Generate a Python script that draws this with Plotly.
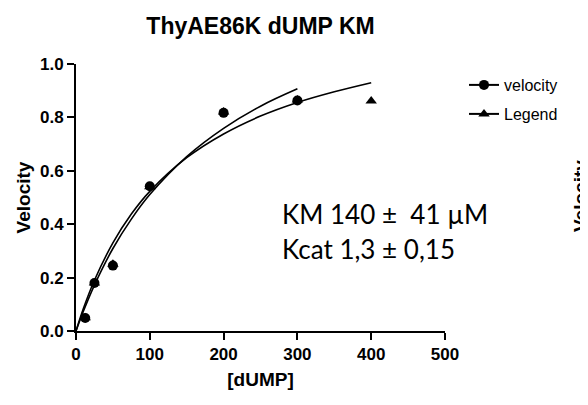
import plotly.graph_objects as go

# Measured data points
conc = [12.5, 25, 50, 100, 200, 300]
velocity = [0.049, 0.18, 0.245, 0.542, 0.817, 0.863]
legend_conc = [12.5, 25, 50, 100, 200, 300, 400]
legend_vals = [0.05, 0.18, 0.25, 0.54, 0.82, 0.865, 0.861]

# Fitted curves
fit1_x = [0, 10, 25, 50, 75, 100, 150, 200, 250, 300]
fit1_y = [0, 0.074, 0.172, 0.309, 0.419, 0.511, 0.653, 0.759, 0.842, 0.907]
fit2_x = [0, 10, 25, 50, 75, 100, 150, 200, 250, 300, 350, 400]
fit2_y = [0, 0.084, 0.190, 0.330, 0.438, 0.523, 0.649, 0.738, 0.805, 0.856, 0.896, 0.930]

x_ticks = [0, 100, 200, 300, 400, 500]
y_ticks = [0, 0.2, 0.4, 0.6, 0.8, 1.0]

title_text = "ThyAE86K dUMP KM"
x_title = "[dUMP]"
y_title = "Velocity"
series_names = ["velocity", "Legend"]
ann_line1 = "KM 140 \u00b1  41 \u00b5M"
ann_line2 = "Kcat 1,3 \u00b1 0,15"

FONT = "Arial, Liberation Sans, sans-serif"

# The page body adds an 8px margin, so the figure is made smaller and all
# page positions below are shifted by that offset.
PAGE_W, PAGE_H = 588, 405
OFF = 8
W, H = PAGE_W - OFF, PAGE_H - OFF
# plot area in page pixels: x 76..445, y 64..331
PL, PR, PT, PB = 76, 445, 64, 331
L, T = PL - OFF, PT - OFF
R, B = W - (PR - OFF), H - (PB - OFF)
pw, ph = W - L - R, H - T - B


def px_x(px):
    return (px - OFF - L) / pw


def px_y(py):
    return (H - B - (py - OFF)) / ph


fig = go.Figure()
fig.add_trace(go.Scatter(x=fit1_x, y=fit1_y, mode="lines",
                         line=dict(color="black", width=1.6, shape="spline"),
                         showlegend=False, hoverinfo="skip"))
fig.add_trace(go.Scatter(x=fit2_x, y=fit2_y, mode="lines",
                         line=dict(color="black", width=1.6, shape="spline"),
                         showlegend=False, hoverinfo="skip"))
fig.add_trace(go.Scatter(x=conc, y=velocity, mode="markers", name=series_names[0], showlegend=False,
                         marker=dict(symbol="circle", size=10, color="black")))
fig.add_trace(go.Scatter(x=legend_conc, y=legend_vals, mode="markers", name=series_names[1], showlegend=False,
                         marker=dict(symbol="triangle-up", size=10, color="black")))
# legend-only entries (line + symbol, as in the reference legend)
fig.add_trace(go.Scatter(x=[None], y=[None], mode="lines+markers", name=series_names[0], legend="legend",
                         line=dict(color="black", width=2), marker=dict(symbol="circle", size=10, color="black")))
fig.add_trace(go.Scatter(x=[None], y=[None], mode="lines+markers", name=series_names[1], legend="legend2",
                         line=dict(color="black", width=2), marker=dict(symbol="triangle-up", size=10, color="black")))

leg_common = dict(xanchor="left", yanchor="middle", bgcolor="rgba(0,0,0,0)",
                  font=dict(family=FONT, size=16, color="black"))

fig.update_layout(
    width=W, height=H,
    margin=dict(l=L, r=R, t=T, b=B),
    paper_bgcolor="white", plot_bgcolor="white",
    title=dict(text="<b>" + title_text + "</b>", x=0.5, xref="paper", y=1 - (26 - OFF) / H, yref="container",
               xanchor="center", yanchor="middle", font=dict(family=FONT, size=23, color="black")),
    font=dict(family=FONT, color="black"),
    showlegend=True,
    legend=dict(x=px_x(464), y=px_y(85), **leg_common),
    legend2=dict(x=px_x(464), y=px_y(114), **leg_common),
    xaxis=dict(range=[0, 500], tickvals=x_ticks, showgrid=False, zeroline=False,
               showline=True, linecolor="black", linewidth=2, ticks="outside", ticklen=7, tickwidth=2,
               tickcolor="black", tickfont=dict(family=FONT, size=17, color="black", weight="bold"),
               title=dict(text="<b>" + x_title + "</b>", font=dict(family=FONT, size=19, color="black"),
                          standoff=9)),
    yaxis=dict(range=[0, 1.0], tickvals=y_ticks, tickformat=".1f", showgrid=False,
               zeroline=False, showline=True, linecolor="black", linewidth=2, ticks="outside", ticklen=7,
               tickwidth=2, tickcolor="black", tickfont=dict(family=FONT, size=17, color="black", weight="bold"),
               title=dict(text="<b>" + y_title + "</b>", font=dict(family=FONT, size=19, color="black"),
                          standoff=4)),
)

fig.add_annotation(text=ann_line1, xref="paper", yref="paper", x=px_x(280), y=px_y(214),
                   xanchor="left", yanchor="middle", showarrow=False,
                   font=dict(family="Lato, sans-serif", size=26, color="black"))
fig.add_annotation(text=ann_line2, xref="paper", yref="paper", x=px_x(280), y=px_y(249),
                   xanchor="left", yanchor="middle", showarrow=False,
                   font=dict(family="Lato, sans-serif", size=26, color="black"))
# axis title of the neighbouring panel, cut off at the right edge as in the reference
fig.add_annotation(text="<b>" + y_title + "</b>", xref="paper", yref="paper", x=px_x(580), y=px_y(196),
                   xanchor="center", yanchor="middle", showarrow=False, textangle=-90,
                   font=dict(family=FONT, size=19, color="black"))

fig.write_html("out.html")
